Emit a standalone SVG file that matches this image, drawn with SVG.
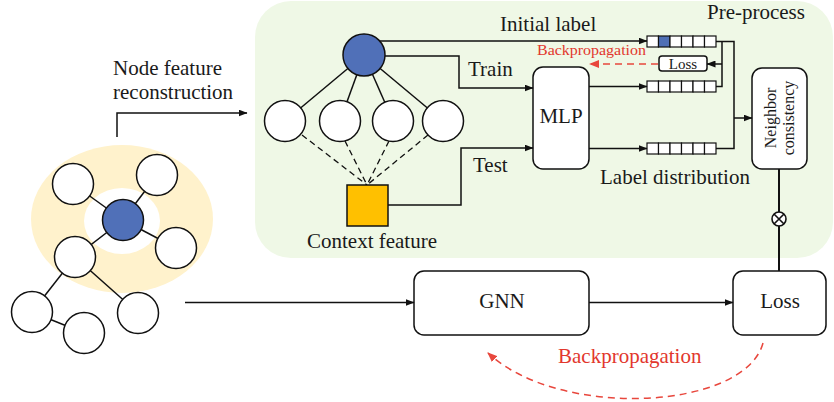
<svg xmlns="http://www.w3.org/2000/svg" width="834" height="402" viewBox="0 0 834 402">
<defs>
<style>
.t{font-family:"Liberation Serif","Times New Roman",serif;font-size:21px;fill:#1a1a1a}
.red{fill:#e2372d}
.ln{stroke:#111;stroke-width:1.5;fill:none}
.dash{stroke:#111;stroke-width:1.3;fill:none;stroke-dasharray:6,4}
.rdash{stroke:#e8473d;stroke-width:1.5;fill:none;stroke-dasharray:7,5}
.node{fill:#fff;stroke:#111;stroke-width:1.5}
.blue{fill:#5070b8;stroke:#111;stroke-width:1.5}
.box{fill:#fff;stroke:#111;stroke-width:1.5}
.cell{fill:#fff;stroke:#111;stroke-width:1.2}
</style>
<marker id="ar" markerWidth="9" markerHeight="7" refX="8.5" refY="3.5" orient="auto" markerUnits="userSpaceOnUse"><path d="M0,0 L9,3.5 L0,7 z" fill="#111"/></marker>
<marker id="arr" markerWidth="10" markerHeight="8" refX="9" refY="4" orient="auto" markerUnits="userSpaceOnUse"><path d="M0,0 L10,4 L0,8 z" fill="#e8473d"/></marker>
</defs>

<rect id="preprocess-bg" x="255" y="1" width="578" height="257" rx="36" fill="#eff8e6"/>

<g id="left-graph">
<ellipse cx="122" cy="219" rx="91" ry="74" fill="#fff2cc"/>
<ellipse cx="122" cy="221" rx="38" ry="33" fill="#fff"/>
<g class="ln">
<line x1="123" y1="220" x2="73" y2="184"/>
<line x1="123" y1="220" x2="157" y2="175"/>
<line x1="123" y1="220" x2="176" y2="248"/>
<line x1="123" y1="220" x2="75" y2="257"/>
<line x1="75" y1="257" x2="32" y2="312"/>
<line x1="75" y1="257" x2="138" y2="313"/>
<line x1="32" y1="312" x2="84" y2="333"/>
</g>
<circle class="node" cx="73" cy="184" r="20.5"/>
<circle class="node" cx="157" cy="175" r="20.5"/>
<circle class="node" cx="176" cy="248" r="20.5"/>
<circle class="node" cx="75" cy="257" r="20.5"/>
<circle class="node" cx="32" cy="312" r="20.5"/>
<circle class="node" cx="84" cy="333" r="20.5"/>
<circle class="node" cx="138" cy="313" r="20.5"/>
<circle class="blue" cx="123" cy="220" r="20.5"/>
</g>

<g id="subgraph">
<g class="ln">
<line x1="364" y1="55" x2="285" y2="121"/>
<line x1="364" y1="55" x2="340" y2="121"/>
<line x1="364" y1="55" x2="393" y2="121"/>
<line x1="364" y1="55" x2="443" y2="121"/>
</g>
<g class="dash">
<line x1="302" y1="135" x2="367" y2="185"/>
<line x1="345" y1="141" x2="367" y2="185"/>
<line x1="389" y1="141" x2="367" y2="185"/>
<line x1="428" y1="135" x2="367" y2="185"/>
</g>
<circle class="node" cx="285" cy="121" r="20.5"/>
<circle class="node" cx="340" cy="121" r="20.5"/>
<circle class="node" cx="393" cy="121" r="20.5"/>
<circle class="node" cx="443" cy="121" r="20.5"/>
<circle class="blue" cx="364" cy="55" r="21"/>
</g>

<g id="context-feature">
<rect x="347" y="185" width="41" height="41" fill="#ffc000" stroke="#111" stroke-width="1.5"/>
<text class="t" x="372" y="248" text-anchor="middle">Context feature</text>
</g>

<g id="mlp">
<rect class="box" x="533" y="67" width="56" height="102" rx="10"/>
<text class="t" x="561" y="123" text-anchor="middle">MLP</text>
</g>

<g id="initial-label-vec">
<rect class="cell" x="647" y="36" width="11.5" height="11"/>
<rect x="658.5" y="36" width="11.5" height="11" fill="#4f6fb5" stroke="#111" stroke-width="1.2"/>
<rect class="cell" x="670" y="36" width="11.5" height="11"/>
<rect class="cell" x="681.5" y="36" width="11.5" height="11"/>
<rect class="cell" x="693" y="36" width="11.5" height="11"/>
<rect class="cell" x="704.5" y="36" width="11.5" height="11"/>
</g>

<g id="train-vec">
<rect class="cell" x="647" y="81" width="11.5" height="11"/>
<rect class="cell" x="658.5" y="81" width="11.5" height="11"/>
<rect class="cell" x="670" y="81" width="11.5" height="11"/>
<rect class="cell" x="681.5" y="81" width="11.5" height="11"/>
<rect class="cell" x="693" y="81" width="11.5" height="11"/>
<rect class="cell" x="704.5" y="81" width="11.5" height="11"/>
</g>

<g id="label-distribution-vec">
<rect class="cell" x="647" y="143" width="11.5" height="11"/>
<rect class="cell" x="658.5" y="143" width="11.5" height="11"/>
<rect class="cell" x="670" y="143" width="11.5" height="11"/>
<rect class="cell" x="681.5" y="143" width="11.5" height="11"/>
<rect class="cell" x="693" y="143" width="11.5" height="11"/>
<rect class="cell" x="704.5" y="143" width="11.5" height="11"/>
<text class="t" x="675" y="184" text-anchor="middle">Label distribution</text>
</g>

<g id="small-loss">
<rect class="box" x="659" y="56" width="48" height="15" rx="3"/>
<text class="t" x="683" y="68.5" text-anchor="middle" style="font-size:15px">Loss</text>
</g>

<g id="neighbor-consistency">
<rect class="box" x="752" y="68" width="55" height="101" rx="10"/>
<text class="t" style="font-size:16px" text-anchor="middle" transform="translate(776,118) rotate(-90)">Neighbor</text>
<text class="t" style="font-size:16px" text-anchor="middle" transform="translate(794,118) rotate(-90)">consistency</text>
</g>

<g id="gnn">
<rect class="box" x="414" y="271" width="175" height="64" rx="10"/>
<text class="t" x="502" y="308" text-anchor="middle">GNN</text>
</g>

<g id="loss">
<rect class="box" x="733" y="271" width="93" height="64" rx="10"/>
<text class="t" x="780" y="308" text-anchor="middle">Loss</text>
</g>

<g id="connectors">
<path class="ln" d="M117,137 V113 H247" marker-end="url(#ar)"/>
<path class="ln" d="M380,41 H647" marker-end="url(#ar)"/>
<path class="ln" d="M385,56 H459 V88 H533" marker-end="url(#ar)"/>
<path class="ln" d="M388,205 H461 V148 H533" marker-end="url(#ar)"/>
<path class="ln" d="M589,86.5 H647" marker-end="url(#ar)"/>
<path class="ln" d="M589,148.5 H647" marker-end="url(#ar)"/>
<path class="ln" d="M716,41.5 H734 V148.5 H716"/>
<path class="ln" d="M722,41.5 V86.5 H716"/>
<path class="ln" d="M722,64 H707" marker-end="url(#ar)"/>
<path class="ln" d="M734,118 H752" marker-end="url(#ar)"/>
<path class="rdash" d="M658,64 H590" marker-end="url(#arr)"/>
<line x1="779" y1="169" x2="779" y2="271" stroke="#111" stroke-width="2"/>
<circle cx="779" cy="219" r="7" fill="#fff" stroke="#111" stroke-width="1.6"/>
<path d="M774,214 L784,224 M784,214 L774,224" stroke="#111" stroke-width="1.6"/>
<path class="ln" d="M185,302.5 H414" marker-end="url(#ar)"/>
<path class="ln" d="M589,302.5 H733" marker-end="url(#ar)"/>
<path class="rdash" d="M763,343 C745,410 560,420 488,353" marker-end="url(#arr)"/>
</g>

<g id="labels">
<text class="t" x="113" y="75">Node feature</text>
<text class="t" x="113" y="99">reconstruction</text>
<text class="t" x="500" y="31">Initial label</text>
<text class="t" x="707" y="19">Pre-process</text>
<text class="t" x="468" y="76">Train</text>
<text class="t" x="473" y="172">Test</text>
<text class="t red" x="537" y="55" style="font-size:14.5px" textLength="109" lengthAdjust="spacingAndGlyphs">Backpropagation</text>
<text class="t red" x="558" y="363">Backpropagation</text>
</g>
</svg>
